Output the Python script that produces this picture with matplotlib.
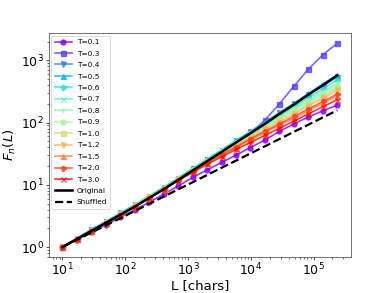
import matplotlib
matplotlib.use("Agg")
import matplotlib.pyplot as plt
import numpy as np

L = [10, 17, 28.9, 49.1, 83.5, 142, 241, 410, 698, 1186, 2016, 3428, 5827,
     9906, 16840, 28630, 48670, 82740, 140700, 239100]

temps = ["0.1", "0.3", "0.4", "0.5", "0.6", "0.7", "0.8", "0.9", "1.0", "1.2", "1.5", "2.0", "3.0"]

F_T01 = [1.00, 1.32, 1.74, 2.29, 3.02, 3.98, 5.25, 7.08, 9.55, 13.2, 17.4, 22.9, 30.2, 39.8, 52.5, 72.4, 95.5, 123, 155, 191]
F_T03 = [1.00, 1.35, 1.86, 2.51, 3.47, 4.68, 6.46, 8.91, 12.6, 17.8, 25.1, 35.5, 49.0, 67.6, 110, 200, 385, 725, 1230, 1885]
F_T04 = [1.00, 1.35, 1.86, 2.51, 3.47, 4.68, 6.46, 8.91, 12.6, 17.8, 25.1, 35.5, 50.1, 70.8, 100, 141, 200, 282, 389, 550]
F_T05 = [1.00, 1.38, 1.91, 2.57, 3.55, 4.79, 6.61, 9.12, 12.9, 18.2, 25.7, 36.3, 51.3, 72.4, 102, 145, 204, 295, 417, 589]
F_T06 = [1.00, 1.38, 1.91, 2.57, 3.55, 4.79, 6.61, 9.12, 12.9, 18.2, 25.7, 36.3, 50.1, 69.2, 95.5, 132, 182, 251, 347, 490]
F_T07 = [1.00, 1.35, 1.86, 2.51, 3.47, 4.68, 6.46, 8.91, 12.6, 17.8, 25.1, 35.5, 49.0, 67.6, 91.2, 126, 170, 229, 316, 427]
F_T08 = [1.00, 1.35, 1.82, 2.51, 3.39, 4.68, 6.46, 8.91, 12.3, 17.4, 24.5, 34.7, 46.8, 63.1, 85.1, 115, 155, 209, 282, 380]
F_T09 = [1.00, 1.35, 1.82, 2.51, 3.39, 4.68, 6.46, 8.91, 12.3, 17.4, 24.5, 34.7, 47.9, 64.6, 88.1, 120, 164, 224, 305, 417]
F_T10 = [1.00, 1.35, 1.82, 2.45, 3.39, 4.57, 6.31, 8.71, 12.3, 17.4, 24.0, 33.1, 44.7, 60.3, 81.3, 110, 145, 195, 263, 355]
F_T12 = [1.00, 1.35, 1.82, 2.45, 3.39, 4.57, 6.31, 8.71, 12.3, 17.0, 23.4, 31.6, 42.7, 57.5, 77.6, 102, 138, 186, 245, 331]
F_T15 = [1.00, 1.35, 1.82, 2.45, 3.31, 4.47, 6.17, 8.51, 12.0, 16.6, 22.4, 30.2, 39.8, 52.5, 69.2, 91.2, 117, 155, 204, 269]
F_T20 = [1.00, 1.35, 1.82, 2.45, 3.31, 4.47, 6.17, 8.51, 12.0, 16.6, 22.9, 30.9, 40.7, 55.0, 72.4, 95.5, 126, 166, 219, 288]
F_T30 = [1.00, 1.35, 1.82, 2.45, 3.31, 4.47, 6.17, 8.51, 11.7, 15.8, 21.4, 28.2, 37.2, 47.9, 62.4, 81.3, 106, 138, 180, 234]

F_original = [1.00, 1.35, 1.82, 2.45, 3.31, 4.47, 6.17, 8.51, 12.0, 17.0, 24.0, 33.9, 47.9, 67.6, 95.5, 138, 195, 282, 398, 575]
F_shuffled = [1.00, 1.31, 1.71, 2.23, 2.91, 3.80, 4.96, 6.47, 8.45, 11.0, 14.4, 18.8, 24.5, 32.0, 41.7, 54.5, 71.1, 92.8, 121, 158]

series = [F_T01, F_T03, F_T04, F_T05, F_T06, F_T07, F_T08, F_T09, F_T10, F_T12, F_T15, F_T20, F_T30]
markers = ["o", "s", "v", "^", "P", "x", "+"]

fig = plt.figure(figsize=(3.9, 2.93), dpi=100)
ax = fig.add_axes([0.125, 0.122, 0.775, 0.765])

colors = plt.cm.rainbow(np.linspace(0, 1, len(series)))
for i, (t, F) in enumerate(zip(temps, series)):
    ax.plot(L, F, marker=markers[i % len(markers)], color=colors[i], alpha=0.8,
            lw=1.2, ms=3.6, mew=0.9, label=f"T={t}")

ax.plot(L, F_original, color="black", lw=1.8, label="Original")
ax.plot(L, F_shuffled, color="black", lw=1.6, ls="--", label="Shuffled")

ax.set_xscale("log")
ax.set_yscale("log")
ax.set_xlabel("L [chars]", fontsize=9.5, labelpad=0)
ax.set_ylabel("$F_n(L)$", fontsize=9.5, labelpad=2)
ax.tick_params(which="major", labelsize=9, length=2.2, width=0.5, pad=1.2)
ax.tick_params(which="minor", length=1.3, width=0.4)
for s in ax.spines.values():
    s.set_linewidth(0.6)
    s.set_color("0.35")

leg = ax.legend(loc="upper left", fontsize=5.3, labelspacing=0.72, handlelength=2.4,
                handletextpad=0.6, borderaxespad=0.35, borderpad=0.45, framealpha=1)
leg.get_frame().set_linewidth(0.5)

fig.savefig("out.png", dpi=100)
